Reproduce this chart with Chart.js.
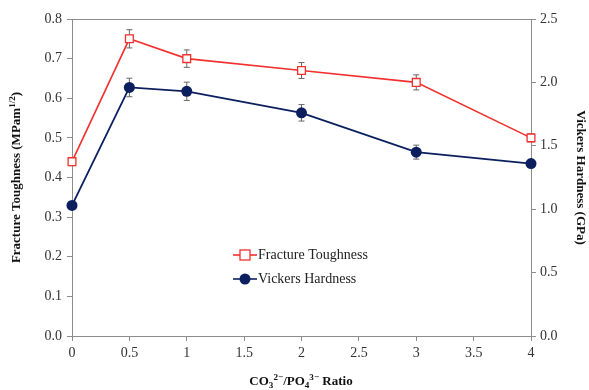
<!DOCTYPE html>
<html lang="en">

<head>
    <meta charset="UTF-8">
    <title>Fracture toughness and Vickers hardness</title>
    <script src="https://cdn.jsdelivr.net/npm/chart.js"></script>
    <style>
        html, body { margin: 0; padding: 0; background: #fff; }
        #wrap { width: 589px; height: 390px; position: relative; }
    </style>
</head>

<body>
    <div id="wrap"><canvas id="myChart"></canvas></div>

    <script>
        // data
        const ratios = [0, 0.5, 1, 2, 3, 4];
        const toughness = [0.44, 0.75, 0.70, 0.67, 0.64, 0.50];
        const toughnessErr = [0.01, 0.023, 0.022, 0.02, 0.019, 0.01];
        const hardness = [1.03, 1.96, 1.93, 1.76, 1.45, 1.36];
        const hardnessErr = [0.03, 0.073, 0.072, 0.065, 0.055, 0.03];

        const leftTicks = [0, 0.1, 0.2, 0.3, 0.4, 0.5, 0.6, 0.7, 0.8];
        const rightTicks = [0, 0.5, 1.0, 1.5, 2.0, 2.5];
        const xTicks = [0, 0.5, 1, 1.5, 2, 2.5, 3, 3.5, 4];

        const RED = '#f2302e';
        const NAVY = '#0b1f5e';
        const AXIS = '#8c8c8c';
        const SERIF = '"Liberation Serif", "Times New Roman", serif';

        const errors = [toughnessErr, hardnessErr];

        // draws text with ^sup and _sub parts: segments [[text, 'n'|'sup'|'sub'], ...]
        function richWidth(ctx, segs, size) {
            let w = 0;
            segs.forEach(s => {
                ctx.font = 'bold ' + (s[1] === 'n' ? size : size * 0.7) + 'px ' + SERIF;
                w += ctx.measureText(s[0]).width;
            });
            return w;
        }
        function drawRich(ctx, segs, size, cx, cy, rot) {
            ctx.save();
            ctx.translate(cx, cy);
            ctx.rotate(rot);
            ctx.fillStyle = '#111';
            ctx.textBaseline = 'middle';
            ctx.textAlign = 'left';
            let x = -richWidth(ctx, segs, size) / 2;
            segs.forEach(s => {
                const small = s[1] !== 'n';
                ctx.font = 'bold ' + (small ? size * 0.7 : size) + 'px ' + SERIF;
                let dy = 0;
                if (s[1] === 'sup') dy = -size * 0.35;
                if (s[1] === 'sub') dy = size * 0.3;
                ctx.fillText(s[0], x, dy);
                x += ctx.measureText(s[0]).width;
            });
            ctx.restore();
        }

        function drawMarker(ctx, type, x, y) {
            ctx.save();
            ctx.lineWidth = 1.3;
            if (type === 'rect') {
                ctx.fillStyle = '#fff';
                ctx.strokeStyle = RED;
                ctx.fillRect(x - 5, y - 5, 10, 10);
                ctx.strokeRect(x - 5, y - 5, 10, 10);
            } else {
                ctx.fillStyle = NAVY;
                ctx.beginPath();
                ctx.arc(x, y, 5.5, 0, Math.PI * 2);
                ctx.fill();
            }
            ctx.restore();
        }

        const extras = {
            id: 'extras',
            beforeDatasetsDraw(chart) {
                const ctx = chart.ctx;
                const a = chart.chartArea;
                // top frame line
                ctx.save();
                ctx.strokeStyle = AXIS;
                ctx.lineWidth = 1;
                ctx.beginPath();
                ctx.moveTo(a.left, a.top + 0.5);
                ctx.lineTo(a.right, a.top + 0.5);
                ctx.stroke();

                // error bars
                ctx.strokeStyle = '#666';
                ctx.lineWidth = 1;
                chart.data.datasets.forEach((ds, i) => {
                    const meta = chart.getDatasetMeta(i);
                    const ys = chart.scales[ds.yAxisID];
                    meta.data.forEach((pt, j) => {
                        const v = ds.data[j].y;
                        const e = errors[i][j];
                        const y1 = ys.getPixelForValue(v + e);
                        const y2 = ys.getPixelForValue(v - e);
                        ctx.beginPath();
                        ctx.moveTo(pt.x, y1); ctx.lineTo(pt.x, y2);
                        ctx.moveTo(pt.x - 3, y1); ctx.lineTo(pt.x + 3, y1);
                        ctx.moveTo(pt.x - 3, y2); ctx.lineTo(pt.x + 3, y2);
                        ctx.stroke();
                    });
                });
                ctx.restore();
            },
            afterDraw(chart) {
                const ctx = chart.ctx;
                const a = chart.chartArea;

                // legend inside the plot
                const items = [
                    ['Fracture Toughness', RED, 'rect', 255],
                    ['Vickers Hardness', NAVY, 'circle', 279]
                ];
                items.forEach(it => {
                    ctx.save();
                    ctx.strokeStyle = it[1];
                    ctx.lineWidth = 1.6;
                    ctx.beginPath();
                    ctx.moveTo(233, it[3]);
                    ctx.lineTo(257, it[3]);
                    ctx.stroke();
                    ctx.restore();
                    drawMarker(ctx, it[2], 245, it[3]);
                    ctx.save();
                    ctx.fillStyle = '#222';
                    ctx.font = '14px ' + SERIF;
                    ctx.textBaseline = 'middle';
                    ctx.fillText(it[0], 258, it[3]);
                    ctx.restore();
                });

                // axis titles
                drawRich(ctx, [['Fracture Toughness (MPam', 'n'], ['1/2', 'sup'], [')', 'n']],
                    13, 17, (a.top + a.bottom) / 2, -Math.PI / 2);
                drawRich(ctx, [['Vickers Hardness (GPa)', 'n']],
                    13, 580, (a.top + a.bottom) / 2, Math.PI / 2);
                drawRich(ctx, [['CO', 'n'], ['3', 'sub'], ['2\u2212', 'sup'], ['/PO', 'n'], ['4', 'sub'],
                    ['3\u2212', 'sup'], [' Ratio', 'n']], 13, 301, 382, 0);
            }
        };

        const tickFont = { family: SERIF, size: 14 };

        const config = {
            type: 'line',
            data: {
                datasets: [
                    {
                        label: 'Fracture Toughness',
                        data: ratios.map((r, i) => ({ x: r, y: toughness[i] })),
                        yAxisID: 'y',
                        borderColor: RED,
                        borderWidth: 1.6,
                        backgroundColor: '#fff',
                        pointStyle: 'rect',
                        pointRadius: 5.5,
                        pointBorderWidth: 1.3,
                        pointBorderColor: RED,
                        pointBackgroundColor: '#fff',
                        clip: false
                    },
                    {
                        label: 'Vickers Hardness',
                        data: ratios.map((r, i) => ({ x: r, y: hardness[i] })),
                        yAxisID: 'y2',
                        borderColor: NAVY,
                        borderWidth: 1.8,
                        backgroundColor: NAVY,
                        pointStyle: 'circle',
                        pointRadius: 5.5,
                        pointBorderWidth: 0,
                        pointBackgroundColor: NAVY,
                        clip: false
                    }
                ]
            },
            options: {
                responsive: true,
                maintainAspectRatio: false,
                animation: false,
                layout: { padding: { top: 19 } },
                plugins: {
                    legend: { display: false },
                    tooltip: { enabled: false }
                },
                scales: {
                    x: {
                        type: 'linear',
                        min: 0, max: 4,
                        afterBuildTicks: s => { s.ticks = xTicks.map(v => ({ value: v })); },
                        afterFit: s => { s.height = 54; },
                        grid: { drawOnChartArea: false, tickLength: 5, color: AXIS },
                        border: { color: AXIS },
                        ticks: { font: tickFont, color: '#333', padding: 4, maxRotation: 0,
                            callback: v => String(v) }
                    },
                    y: {
                        position: 'left',
                        min: 0, max: 0.8,
                        afterBuildTicks: s => { s.ticks = leftTicks.map(v => ({ value: v })); },
                        afterFit: s => { s.width = 72; },
                        grid: { drawOnChartArea: false, tickLength: 5, color: AXIS },
                        border: { color: AXIS },
                        ticks: { font: tickFont, color: '#333', padding: 5,
                            callback: v => v.toFixed(1) }
                    },
                    y2: {
                        position: 'right',
                        min: 0, max: 2.5,
                        afterBuildTicks: s => { s.ticks = rightTicks.map(v => ({ value: v })); },
                        afterFit: s => { s.width = 58; },
                        grid: { drawOnChartArea: false, tickLength: 5, color: AXIS },
                        border: { color: AXIS },
                        ticks: { font: tickFont, color: '#333', padding: 4,
                            callback: v => v.toFixed(1) }
                    }
                }
            },
            plugins: [extras]
        };

        const myChart = new Chart(document.getElementById('myChart'), config);
    </script>
</body>

</html>
